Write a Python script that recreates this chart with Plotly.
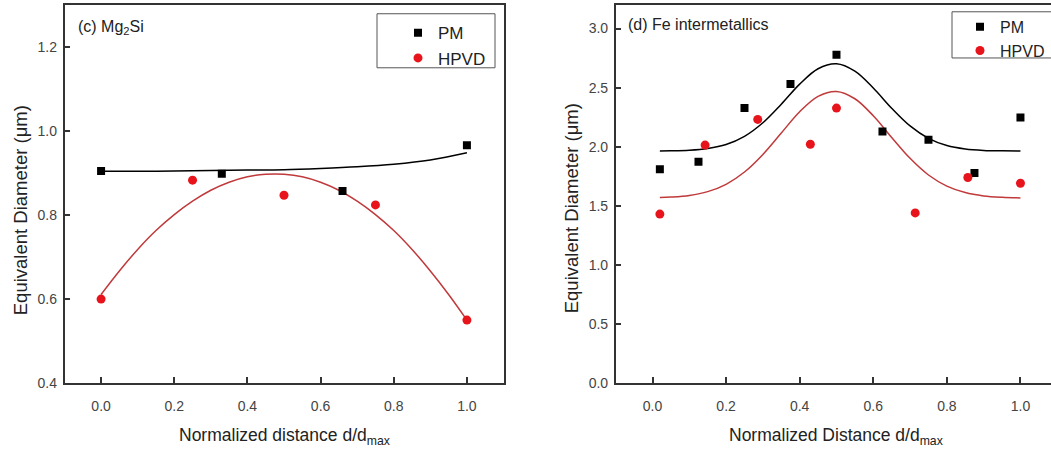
import plotly.graph_objects as go

# (c) Mg2Si panel
c_pm_x = [0.0, 0.33, 0.66, 1.0]
c_pm_y = [0.905, 0.898, 0.857, 0.966]
c_hpvd_x = [0.0, 0.25, 0.5, 0.75, 1.0]
c_hpvd_y = [0.600, 0.883, 0.847, 0.824, 0.550]

# fitted curves
c_pm_fit_x = [0.0, 0.1, 0.2, 0.3, 0.4, 0.5, 0.6, 0.7, 0.8, 0.9, 1.0]
c_pm_fit_y = [0.904, 0.904, 0.905, 0.906, 0.907, 0.908, 0.911, 0.915, 0.921, 0.931, 0.948]
c_hpvd_fit_x = [0.0, 0.05, 0.1, 0.15, 0.2, 0.25, 0.3, 0.35, 0.4, 0.45, 0.5,
                0.55, 0.6, 0.65, 0.7, 0.75, 0.8, 0.85, 0.9, 0.95, 1.0]
c_hpvd_fit_y = [0.611, 0.667, 0.718, 0.763, 0.801, 0.833, 0.859, 0.878, 0.891, 0.897, 0.897,
                0.891, 0.878, 0.859, 0.833, 0.801, 0.763, 0.718, 0.667, 0.611, 0.550]

# (d) Fe intermetallics panel
d_pm_x = [0.02, 0.125, 0.25, 0.375, 0.5, 0.625, 0.75, 0.875, 1.0]
d_pm_y = [1.810, 1.874, 2.327, 2.531, 2.778, 2.128, 2.059, 1.777, 2.247]
d_hpvd_x = [0.02, 0.143, 0.286, 0.429, 0.5, 0.714, 0.857, 1.0]
d_hpvd_y = [1.430, 2.014, 2.231, 2.021, 2.327, 1.440, 1.740, 1.691]

d_fit_x = [0.02, 0.05, 0.1, 0.15, 0.2, 0.25, 0.3, 0.35, 0.4, 0.45, 0.5,
           0.55, 0.6, 0.65, 0.7, 0.75, 0.8, 0.85, 0.9, 0.95, 1.0]
d_pm_fit_y = [1.964, 1.965, 1.970, 1.985, 2.019, 2.088, 2.203, 2.360, 2.530, 2.660, 2.702,
              2.639, 2.497, 2.326, 2.176, 2.071, 2.010, 1.981, 1.969, 1.965, 1.964]
d_hpvd_fit_y = [1.570, 1.574, 1.588, 1.620, 1.682, 1.786, 1.935, 2.116, 2.296, 2.426, 2.468,
                2.406, 2.262, 2.079, 1.902, 1.761, 1.667, 1.612, 1.584, 1.572, 1.567]

x_ticks = [0.0, 0.2, 0.4, 0.6, 0.8, 1.0]
c_y_ticks = [0.4, 0.6, 0.8, 1.0, 1.2]
d_y_ticks = [0.0, 0.5, 1.0, 1.5, 2.0, 2.5, 3.0]

W, H = 1051, 453
FONT = "Arial, Liberation Sans, sans-serif"
AXIS = "#333333"
TXT = "#222222"
RED_DOT = "#e8141b"
RED_LINE = "#c0393b"


def px(v):
    return v / W


def py(v):
    return 1 - v / H


fig = go.Figure()

# left panel
fig.add_trace(go.Scatter(x=c_pm_fit_x, y=c_pm_fit_y, mode="lines", line=dict(color="black", width=1.5, shape="spline"),
                         showlegend=False, xaxis="x", yaxis="y"))
fig.add_trace(go.Scatter(x=c_hpvd_fit_x, y=c_hpvd_fit_y, mode="lines", line=dict(color=RED_LINE, width=1.5, shape="spline"),
                         showlegend=False, xaxis="x", yaxis="y"))
fig.add_trace(go.Scatter(x=c_pm_x, y=c_pm_y, mode="markers", name="PM",
                         marker=dict(symbol="square", size=8, color="black"), xaxis="x", yaxis="y", legend="legend"))
fig.add_trace(go.Scatter(x=c_hpvd_x, y=c_hpvd_y, mode="markers", name="HPVD",
                         marker=dict(symbol="circle", size=9, color=RED_DOT), xaxis="x", yaxis="y", legend="legend"))

# right panel
fig.add_trace(go.Scatter(x=d_fit_x, y=d_pm_fit_y, mode="lines", line=dict(color="black", width=1.5, shape="spline"),
                         showlegend=False, xaxis="x2", yaxis="y2"))
fig.add_trace(go.Scatter(x=d_fit_x, y=d_hpvd_fit_y, mode="lines", line=dict(color=RED_LINE, width=1.5, shape="spline"),
                         showlegend=False, xaxis="x2", yaxis="y2"))
fig.add_trace(go.Scatter(x=d_pm_x, y=d_pm_y, mode="markers", name="PM",
                         marker=dict(symbol="square", size=8, color="black"), xaxis="x2", yaxis="y2", legend="legend2"))
fig.add_trace(go.Scatter(x=d_hpvd_x, y=d_hpvd_y, mode="markers", name="HPVD",
                         marker=dict(symbol="circle", size=9, color=RED_DOT), xaxis="x2", yaxis="y2", legend="legend2"))

tick_font = dict(family=FONT, size=14, color="#444444")
common_x = dict(showline=True, linecolor=AXIS, linewidth=1.5, ticks="inside", ticklen=6, tickwidth=1.5,
                tickcolor=AXIS, tickvals=x_ticks, tickformat=".1f", showgrid=False, zeroline=False,
                tickfont=tick_font, ticklabelstandoff=9)
common_y = dict(showline=True, linecolor=AXIS, linewidth=1.5, ticks="inside", ticklen=6, tickwidth=1.5,
                tickcolor=AXIS, tickformat=".1f", showgrid=False, zeroline=False, tickfont=tick_font,
                ticklabelstandoff=3)

y_dom = [py(390), py(5)]

fig.update_layout(
    width=W, height=H,
    margin=dict(l=0, r=0, t=0, b=0),
    paper_bgcolor="white", plot_bgcolor="white",
    font=dict(family=FONT, color=TXT),
    xaxis=dict(common_x, domain=[px(64.5), px(503.5)], range=[-0.1, 1.1], mirror=True, anchor="y"),
    yaxis=dict(common_y, domain=y_dom, range=[0.4, 1.3], tickvals=c_y_ticks, mirror=True, anchor="x"),
    xaxis2=dict(common_x, domain=[px(615.7), 1.0], range=[-0.1, 1.083], mirror=True, anchor="y2"),
    yaxis2=dict(common_y, domain=y_dom, range=[0.0, 3.2], tickvals=d_y_ticks, anchor="x2"),
    legend=dict(x=px(398), y=py(15.5), xanchor="left", yanchor="top", bgcolor="rgba(0,0,0,0)",
                font=dict(family=FONT, size=17, color=TXT), tracegroupgap=0, itemwidth=30),
    legend2=dict(x=px(960), y=py(10), xanchor="left", yanchor="top", bgcolor="rgba(0,0,0,0)",
                 font=dict(family=FONT, size=16, color=TXT), tracegroupgap=0, itemwidth=30),
    shapes=[
        dict(type="rect", xref="paper", yref="paper", x0=px(377), x1=px(495), y0=py(69), y1=py(14),
             line=dict(color="#555555", width=1)),
        dict(type="rect", xref="paper", yref="paper", x0=px(952), x1=px(1060), y0=py(59), y1=py(12),
             line=dict(color="#555555", width=1)),
    ],
    annotations=[
        dict(text="(c) Mg<sub>2</sub>Si", x=px(76), y=py(28), xref="paper", yref="paper",
             xanchor="left", yanchor="middle", showarrow=False, font=dict(size=16, color=TXT)),
        dict(text="(d) Fe intermetallics", x=px(626), y=py(25), xref="paper", yref="paper",
             xanchor="left", yanchor="middle", showarrow=False, font=dict(size=16, color=TXT)),
        dict(text="Equivalent Diameter (\u03bcm)", x=px(20), y=py(214), xref="paper", yref="paper",
             textangle=-90, xanchor="center", yanchor="middle", showarrow=False,
             font=dict(size=18.5, color=TXT)),
        dict(text="Equivalent Diameter (\u03bcm)", x=px(571), y=py(212), xref="paper", yref="paper",
             textangle=-90, xanchor="center", yanchor="middle", showarrow=False,
             font=dict(size=18.5, color=TXT)),
        dict(text="Normalized distance d/d<sub>max</sub>", x=px(284), y=py(444), xref="paper", yref="paper",
             xanchor="center", yanchor="middle", showarrow=False, font=dict(size=17.5, color=TXT)),
        dict(text="Normalized Distance d/d<sub>max</sub>", x=px(836), y=py(444), xref="paper", yref="paper",
             xanchor="center", yanchor="middle", showarrow=False, font=dict(size=17.5, color=TXT)),
    ],
)

# the page body has a default 8px margin; drop it so the figure sits at the window origin
fig.write_html("out.html", config={"displayModeBar": False},
               post_script="document.body.style.margin='0';")
